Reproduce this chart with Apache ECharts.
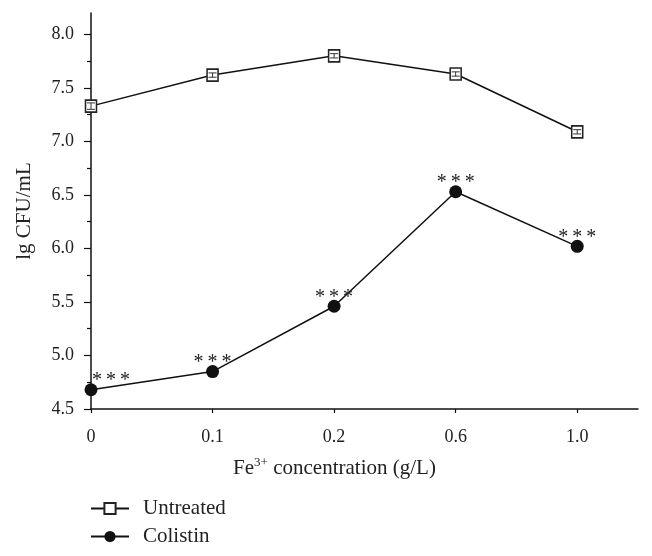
<!DOCTYPE html>
<html>
<head>
<meta charset="utf-8">
<script src="https://cdn.jsdelivr.net/npm/echarts@6/dist/echarts.min.js"></script>
<style>html,body{margin:0;padding:0;background:#fff}#c{width:652px;height:556px}</style>
</head>
<body>
<div id="c"></div>
<script>
const categories = ['0', '0.1', '0.2', '0.6', '1.0'];
const untreated = [7.33, 7.62, 7.80, 7.63, 7.09];
const untreatedErr = [0.03, 0.02, 0.02, 0.02, 0.02];
const colistin = [4.68, 4.85, 5.46, 6.53, 6.02];
const significance = ['***', '***', '***', '***', '***'];
const yMajorTicks = [4.5, 5.0, 5.5, 6.0, 6.5, 7.0, 7.5, 8.0];
const yMinorTicks = [4.75, 5.25, 5.75, 6.25, 6.75, 7.25, 7.75];

const FONT = 'Liberation Serif';
const chart = echarts.init(document.getElementById('c'));

const idx = categories.map((c, i) => i);
const untreatedData = idx.map(i => [i, untreated[i]]);
const errData = idx.map(i => [i, untreated[i] - untreatedErr[i], untreated[i] + untreatedErr[i]]);
const colistinData = idx.map(i => {
  const d = { value: [i, colistin[i]] };
  if (i === 0) d.label = { offset: [20, 8] };
  return d;
});

chart.setOption({
  animation: false,
  backgroundColor: '#fff',
  grid: { left: 91, right: 14, top: 13, bottom: 147 },
  xAxis: {
    type: 'value', min: 0, max: 4.5, interval: 1,
    name: 'Fe{sup|3+} concentration (g/L)',
    nameLocation: 'middle', nameGap: 47,
    nameTextStyle: {
      fontFamily: FONT, fontSize: 21, color: '#222', padding: [0, 60, 0, 0],
      rich: { sup: { fontFamily: FONT, fontSize: 13, verticalAlign: 'top', padding: [0, 0, 11, 0], color: '#222' } }
    },
    axisLine: { lineStyle: { color: '#111', width: 1.5 } },
    axisTick: { customValues: idx, length: 4, inside: false, lineStyle: { color: '#111', width: 1.2 } },
    axisLabel: {
      customValues: idx, margin: 19, fontFamily: FONT, fontSize: 18, color: '#222',
      formatter: v => categories[Math.round(v)]
    },
    splitLine: { show: false }
  },
  yAxis: [{
    type: 'value', min: 4.5, max: 8.2, interval: 0.5,
    name: 'lg CFU/mL', nameLocation: 'middle', nameGap: 56,
    nameTextStyle: { fontFamily: FONT, fontSize: 21, color: '#222' },
    axisLine: { show: true, lineStyle: { color: '#111', width: 1.5 } },
    axisTick: { customValues: yMajorTicks, length: 7, lineStyle: { color: '#111', width: 1.2 } },
    axisLabel: {
      customValues: yMajorTicks, margin: 17, fontFamily: FONT, fontSize: 18, color: '#222',
      formatter: v => v.toFixed(1)
    },
    splitLine: { show: false }
  }, {
    type: 'value', min: 4.5, max: 8.2, position: 'left', offset: 0,
    axisLine: { show: false },
    axisTick: { show: true, customValues: yMinorTicks, length: 4, lineStyle: { color: '#111', width: 1.2 } },
    axisLabel: { show: false },
    splitLine: { show: false }
  }],
  legend: {
    orient: 'vertical', left: 85, top: 493, itemGap: 7, itemWidth: 38, itemHeight: 14,
    textStyle: { fontFamily: FONT, fontSize: 21, color: '#222', padding: [0, 0, 0, 9] },
    data: ['Untreated', 'Colistin']
  },
  series: [{
    name: 'Untreated', type: 'line', data: untreatedData,
    symbol: 'rect', symbolSize: [11, 12], showAllSymbol: true,
    lineStyle: { color: '#111', width: 1.5 },
    itemStyle: { color: '#fff', borderColor: '#222', borderWidth: 1.6 },
    z: 3
  }, {
    name: 'UntreatedErr', type: 'custom', data: errData, z: 5,
    renderItem: (params, api) => {
      const lo = api.coord([api.value(0), api.value(1)]);
      const hi = api.coord([api.value(0), api.value(2)]);
      const w = 4;
      const st = { stroke: '#333', lineWidth: 1 };
      return { type: 'group', children: [
        { type: 'line', shape: { x1: lo[0], y1: lo[1], x2: hi[0], y2: hi[1] }, style: st },
        { type: 'line', shape: { x1: lo[0] - w, y1: lo[1], x2: lo[0] + w, y2: lo[1] }, style: st },
        { type: 'line', shape: { x1: hi[0] - w, y1: hi[1], x2: hi[0] + w, y2: hi[1] }, style: st }
      ]};
    }
  }, {
    name: 'Colistin', type: 'line', data: colistinData,
    symbol: 'circle', symbolSize: 13, showAllSymbol: true,
    lineStyle: { color: '#111', width: 1.5 },
    itemStyle: { color: '#111', borderColor: '#111', borderWidth: 0 },
    label: {
      show: true, position: 'top', distance: 0, offset: [0, 8],
      formatter: p => significance[p.dataIndex].split('').join('\u2009'),
      fontFamily: FONT, fontSize: 20, color: '#222'
    },
    z: 4
  }]
});
</script>
</body>
</html>
